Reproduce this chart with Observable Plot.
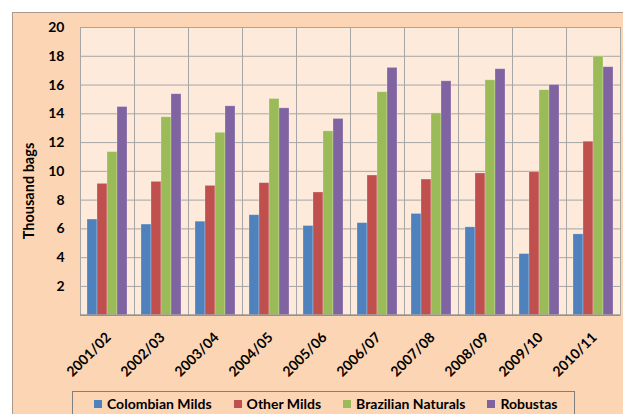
<!DOCTYPE html>
<html>
<head>
<meta charset="utf-8">
<script src="https://cdn.jsdelivr.net/npm/d3@7"></script>
<script src="https://cdn.jsdelivr.net/npm/@observablehq/plot@0.6"></script>
<style>
  html, body { margin: 0; padding: 0; background: #ffffff; }
  body { position: relative; width: 623px; height: 414px; overflow: hidden; font-family: Lato, "Open Sans", sans-serif; }
  #wrap { position: absolute; left: 12px; top: 12px; width: 640px; height: 420px; background: #FCD5B5; border-top: 1px solid #A89A8C; border-left: 1px solid #A89A8C; }
  #chart { position: absolute; left: 0; top: 0; }
  #ylabel { position: absolute; left: 28px; top: 191px; transform: translate(-50%, -50%) rotate(-90deg); font-weight: bold; font-size: 14.5px; white-space: nowrap; color: #000; }
  #legend { position: absolute; left: 72px; top: 391px; width: 503px; height: 40px; border: 1px solid #7F7F7F; box-sizing: border-box; display: flex; align-items: flex-start; padding-left: 21px; padding-top: 3px; gap: 22px; }
  .item { display: flex; align-items: center; font-weight: bold; font-size: 14px; color: #000; white-space: nowrap; }
  .sw { width: 8px; height: 8px; margin-right: 5px; }
</style>
</head>
<body>
<div id="wrap"></div>
<div id="chart"></div>
<div id="ylabel">Thousand bags</div>
<div id="legend"></div>
<script>
const years = ["2001/02","2002/03","2003/04","2004/05","2005/06","2006/07","2007/08","2008/09","2009/10","2010/11"];
const seriesNames = ["Colombian Milds","Other Milds","Brazilian Naturals","Robustas"];
const colombianMilds    = [6.65, 6.30, 6.50, 6.95, 6.20, 6.40, 7.04, 6.11, 4.25, 5.62];
const otherMilds        = [9.13, 9.27, 8.99, 9.18, 8.53, 9.71, 9.43, 9.85, 9.94, 12.06];
const brazilianNaturals = [11.34, 13.76, 12.68, 15.03, 12.78, 15.50, 14.03, 16.33, 15.64, 17.98];
const robustas          = [14.47, 15.36, 14.52, 14.38, 13.64, 17.19, 16.26, 17.10, 16.00, 17.24];
const yTicks = [2,4,6,8,10,12,14,16,18,20];
const colors = ["#4F81BD","#C0504D","#9BBB59","#8064A2"];

const seriesValues = [colombianMilds, otherMilds, brazilianNaturals, robustas];
const data = [];
years.forEach((yr, i) => {
  seriesNames.forEach((s, j) => data.push({year: yr, series: s, value: seriesValues[j][i]}));
});

const chart = Plot.plot({
  width: 623,
  height: 380,
  marginLeft: 79,
  marginRight: 1.3,
  marginTop: 27,
  marginBottom: 65.3,
  style: {background: "transparent", fontFamily: "Lato, 'Open Sans', sans-serif", fontSize: "14px", fontWeight: "bold", color: "#000"},
  fx: {domain: years, paddingInner: 0, paddingOuter: 0, label: null},
  x: {domain: seriesNames, paddingInner: 0.04, paddingOuter: 0.72, axis: null},
  y: {domain: [0, 20], label: null},
  color: {domain: seriesNames, range: colors},
  marks: [
    Plot.frame({fill: "#FDEADA"}),
    Plot.ruleY(yTicks, {stroke: "#A6A6A6", strokeWidth: 1}),
    Plot.frame({stroke: "#A6A6A6", strokeWidth: 1}),
    Plot.barY(data, {fx: "year", x: "series", y: "value", fill: "series", stroke: "#ffffff", strokeOpacity: 0.3, strokeWidth: 0.8}),
    Plot.ruleY([0], {stroke: "#868686", strokeWidth: 1.2}),
    Plot.axisY(yTicks, {anchor: "left", tickSize: 0, tickPadding: 16, label: null, fontWeight: "bold", fontSize: 14}),
    Plot.axisFx({anchor: "bottom", tickRotate: -45, tickSize: 0, tickPadding: 20, label: null, fontWeight: "bold", fontSize: 14, dx: 1})
  ]
});
document.getElementById("chart").appendChild(chart);

const legend = document.getElementById("legend");
seriesNames.forEach((s, j) => {
  const it = document.createElement("div");
  it.className = "item";
  const sw = document.createElement("span");
  sw.className = "sw";
  sw.style.background = colors[j];
  const t = document.createElement("span");
  t.textContent = s;
  it.appendChild(sw); it.appendChild(t);
  legend.appendChild(it);
});
</script>
</body>
</html>
